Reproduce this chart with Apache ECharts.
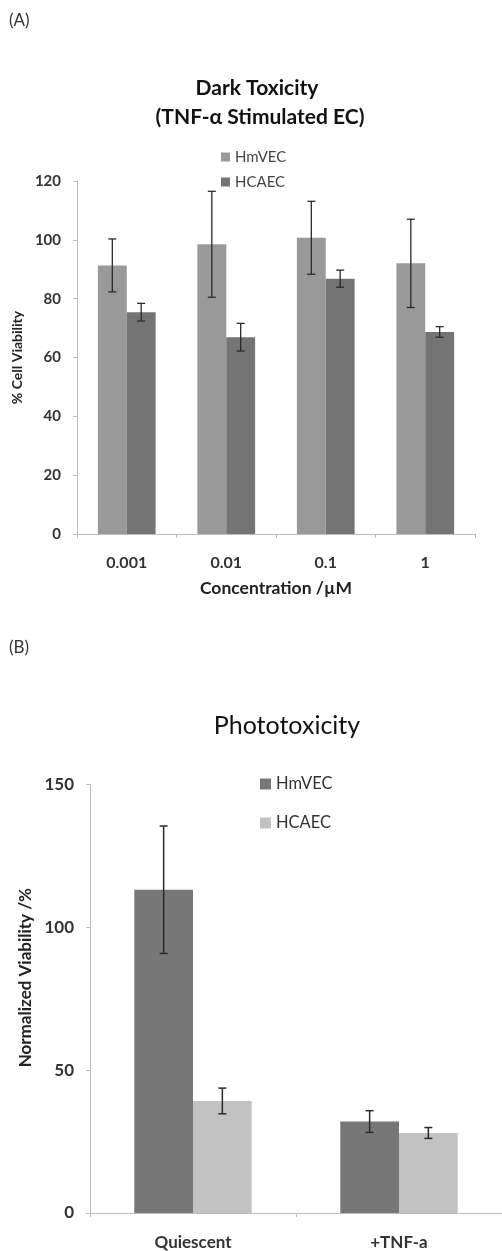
<!DOCTYPE html>
<html>
<head>
<meta charset="utf-8">
<script src="https://cdn.jsdelivr.net/npm/echarts@6/dist/echarts.min.js"></script>
<style>
html,body{margin:0;padding:0;background:#fff;}
#chart{width:502px;height:1251px;}
</style>
</head>
<body>
<div id="chart"></div>
<script>
// ---- Panel A data ----
var categoriesA = ['0.001', '0.01', '0.1', '1'];
var hmvecA = [91.3, 98.5, 100.7, 92.0];
var hmvecErrA = [9.0, 18.0, 12.4, 15.0];
var hcaecA = [75.4, 66.9, 86.8, 68.7];
var hcaecErrA = [3.0, 4.7, 2.9, 1.8];
var yTicksA = [0, 20, 40, 60, 80, 100, 120];

// ---- Panel B data ----
var categoriesB = ['Quiescent', '+TNF-a'];
var hmvecB = [113.1, 32.0];
var hmvecErrB = [22.3, 3.8];
var hcaecB = [39.2, 28.0];
var hcaecErrB = [4.5, 1.9];
var yTicksB = [0, 50, 100, 150];

var FONT = 'Lato, "Open Sans", sans-serif';
var GAP_A = 0.42, GAP_B = 0.43;

function errData(vals, errs) {
  return vals.map(function (v, i) { return [i, v, errs[i]]; });
}
function errRender(sign, gap, cap, lw) {
  return function (params, api) {
    var idx = api.value(0), v = api.value(1), e = api.value(2);
    var band = api.size([1, 0])[0];
    var barW = band * (1 - gap) / 2;
    var x = api.coord([idx, v])[0] + sign * barW / 2;
    var yHi = api.coord([idx, v + e])[1];
    var yLo = api.coord([idx, v - e])[1];
    var st = { stroke: '#2a2a2a', lineWidth: lw };
    return {
      type: 'group',
      children: [
        { type: 'line', shape: { x1: x, y1: yHi, x2: x, y2: yLo }, style: st },
        { type: 'line', shape: { x1: x - cap, y1: yHi, x2: x + cap, y2: yHi }, style: st },
        { type: 'line', shape: { x1: x - cap, y1: yLo, x2: x + cap, y2: yLo }, style: st }
      ]
    };
  };
}
function stripName(n) { return n.split(' ')[0]; }

var chart = echarts.init(document.getElementById('chart'), null, { renderer: 'canvas' });

var option = {
  animation: false,
  backgroundColor: '#ffffff',
  textStyle: { fontFamily: FONT },
  graphic: [
    { type: 'text', x: 9, y: 21, style: { text: '(A)', font: '17px ' + FONT, fill: '#333', verticalAlign: 'middle' } },
    { type: 'text', x: 9, y: 648, style: { text: '(B)', font: '17px ' + FONT, fill: '#333', verticalAlign: 'middle' } },
    { type: 'text', x: 257, y: 88, style: { text: 'Dark Toxicity', font: 'bold 21px ' + FONT, fill: '#111', align: 'center', verticalAlign: 'middle' } },
    { type: 'text', x: 260, y: 117, style: { text: '(TNF-α Stimulated EC)', font: 'bold 21px ' + FONT, fill: '#111', align: 'center', verticalAlign: 'middle' } },
    { type: 'text', x: 287, y: 726, style: { text: 'Phototoxicity', font: '25px ' + FONT, fill: '#111', align: 'center', verticalAlign: 'middle' } }
  ],
  legend: [
    {
      data: ['HmVEC A', 'HCAEC A'], formatter: stripName,
      orient: 'vertical', left: 216, top: 144,
      icon: 'rect', itemWidth: 9, itemHeight: 9, itemGap: 9,
      textStyle: { fontFamily: FONT, fontSize: 15, lineHeight: 16, color: '#444' },
      selectedMode: false
    },
    {
      data: ['HmVEC B', 'HCAEC B'], formatter: stripName,
      orient: 'vertical', left: 255, top: 770,
      icon: 'rect', itemWidth: 11, itemHeight: 11, itemGap: 21,
      textStyle: { fontFamily: FONT, fontSize: 16.5, lineHeight: 18, color: '#333' },
      selectedMode: false
    }
  ],
  grid: [
    { left: 77, right: 27, top: 181, height: 353 },
    { left: 90, right: 0, top: 784.3, height: 429.7 }
  ],
  xAxis: [
    {
      gridIndex: 0, type: 'category', data: categoriesA,
      name: 'Concentration /µM', nameLocation: 'middle', nameGap: 45,
      nameTextStyle: { fontFamily: FONT, fontSize: 17.5, fontWeight: 'bold', color: '#222' },
      axisLine: { lineStyle: { color: '#bdbdbd' } },
      axisTick: { show: true, length: 4, lineStyle: { color: '#bdbdbd' } },
      axisLabel: { fontFamily: FONT, fontSize: 16, fontWeight: 'bold', color: '#333', margin: 21 }
    },
    {
      gridIndex: 1, type: 'category', data: categoriesB,
      axisLine: { lineStyle: { color: '#bdbdbd' } },
      axisTick: { show: true, length: 4, lineStyle: { color: '#bdbdbd' } },
      axisLabel: { fontFamily: FONT, fontSize: 17, fontWeight: 'bold', color: '#333', margin: 21 }
    }
  ],
  yAxis: [
    {
      gridIndex: 0, type: 'value', min: yTicksA[0], max: yTicksA[yTicksA.length - 1], interval: 20,
      name: '% Cell Viability', nameLocation: 'middle', nameGap: 44,
      nameTextStyle: { fontFamily: FONT, fontSize: 14, fontWeight: 'bold', color: '#222' },
      axisLine: { show: true, lineStyle: { color: '#bdbdbd' } },
      axisTick: { show: true, length: 4, lineStyle: { color: '#bdbdbd' } },
      splitLine: { show: false },
      axisLabel: { fontFamily: FONT, fontSize: 15, fontWeight: 'bold', color: '#333', margin: 16 }
    },
    {
      gridIndex: 1, type: 'value', min: yTicksB[0], max: yTicksB[yTicksB.length - 1], interval: 50,
      name: 'Normalized Viability /%', nameLocation: 'middle', nameGap: 52,
      nameTextStyle: { fontFamily: FONT, fontSize: 17, fontWeight: 'bold', color: '#222', padding: [0, 0, 0, 42] },
      axisLine: { show: true, lineStyle: { color: '#bdbdbd' } },
      axisTick: { show: true, length: 4, lineStyle: { color: '#bdbdbd' } },
      splitLine: { show: false },
      axisLabel: { fontFamily: FONT, fontSize: 17, fontWeight: 'bold', color: '#333', margin: 16 }
    }
  ],
  series: [
    { name: 'HmVEC A', type: 'bar', xAxisIndex: 0, yAxisIndex: 0, data: hmvecA,
      barGap: '0%', barCategoryGap: (GAP_A * 100) + '%', itemStyle: { color: '#999999' } },
    { name: 'HCAEC A', type: 'bar', xAxisIndex: 0, yAxisIndex: 0, data: hcaecA,
      barGap: '0%', barCategoryGap: (GAP_A * 100) + '%', itemStyle: { color: '#747474' } },
    { name: 'HmVEC B', type: 'bar', xAxisIndex: 1, yAxisIndex: 1, data: hmvecB,
      barGap: '0%', barCategoryGap: (GAP_B * 100) + '%', itemStyle: { color: '#777777' } },
    { name: 'HCAEC B', type: 'bar', xAxisIndex: 1, yAxisIndex: 1, data: hcaecB,
      barGap: '0%', barCategoryGap: (GAP_B * 100) + '%', itemStyle: { color: '#c2c2c2' } },
    { type: 'custom', xAxisIndex: 0, yAxisIndex: 0, data: errData(hmvecA, hmvecErrA),
      renderItem: errRender(-1, GAP_A, 4, 1.3), encode: { x: 0, y: 1 }, z: 5 },
    { type: 'custom', xAxisIndex: 0, yAxisIndex: 0, data: errData(hcaecA, hcaecErrA),
      renderItem: errRender(1, GAP_A, 4, 1.3), encode: { x: 0, y: 1 }, z: 5 },
    { type: 'custom', xAxisIndex: 1, yAxisIndex: 1, data: errData(hmvecB, hmvecErrB),
      renderItem: errRender(-1, GAP_B, 4, 1.5), encode: { x: 0, y: 1 }, z: 5 },
    { type: 'custom', xAxisIndex: 1, yAxisIndex: 1, data: errData(hcaecB, hcaecErrB),
      renderItem: errRender(1, GAP_B, 4, 1.5), encode: { x: 0, y: 1 }, z: 5 }
  ]
};
chart.setOption(option);
</script>
</body>
</html>
